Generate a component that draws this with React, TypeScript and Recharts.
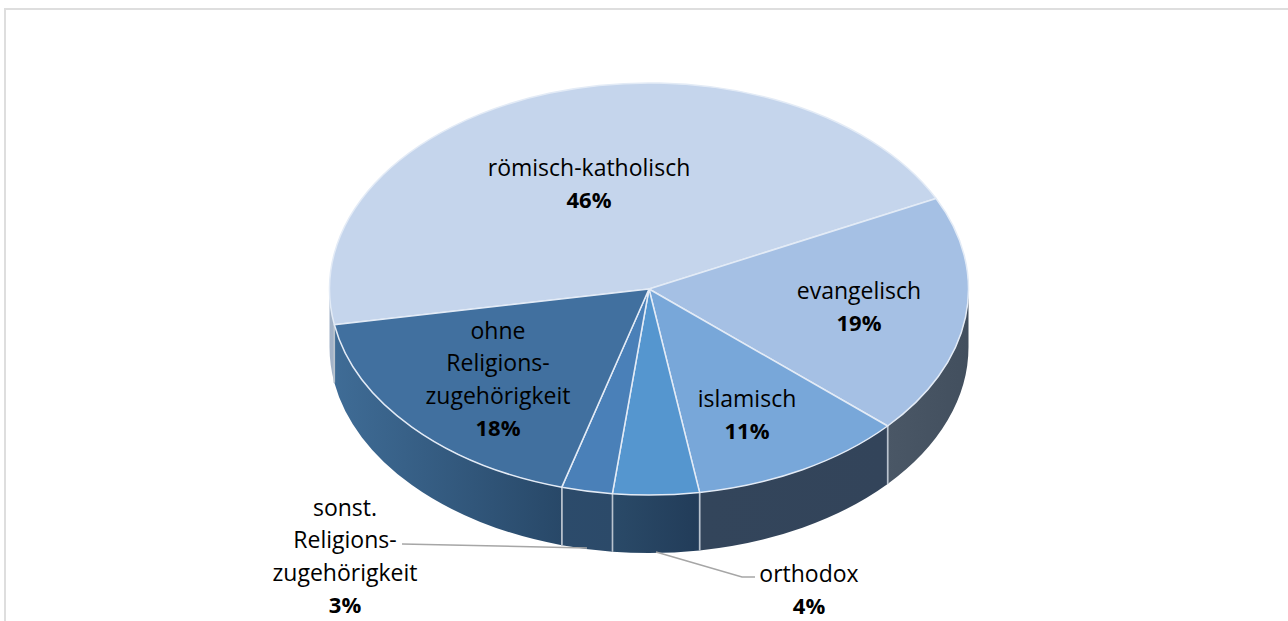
import React from "react";
import { PieChart, Pie } from "recharts";

const categories = ["römisch-katholisch", "evangelisch", "islamisch", "orthodox", "sonst. Religionszugehörigkeit", "ohne Religionszugehörigkeit"];
const shares = [46, 19, 11, 4.4, 2.6, 18];
const percentLabels = ["46%", "19%", "11%", "4%", "3%", "18%"];
const labelLines = [
  ["römisch-katholisch"],
  ["evangelisch"],
  ["islamisch"],
  ["orthodox"],
  ["sonst.", "Religions-", "zugehörigkeit"],
  ["ohne", "Religions-", "zugehörigkeit"],
];

const faceColors = ["#C5D5EC", "#A5C0E4", "#78A7D9", "#5596CF", "#4A80B8", "#41709F"];
const wallColors = [
  ["#A3B3C8", "#A3B3C8"],
  ["#4A5766", "#424F5E"],
  ["#33455B", "#33445A"],
  ["#2A4A68", "#223C59"],
  ["#2C4B6B", "#2C4A69"],
  ["#3F6C96", "#284868"],
];

const CX = 649;
const CY = 289;
const RX = 319.5;
const RY = 206;
const DEPTH = 58;
const FONT = "'Open Sans', sans-serif";
const FONT_SIZE = 23;
const BOLD_SIZE = 22;
const LINE = 32.3;

// Centre of each label block and first baseline, relative to the pie centre
const labelPlacement = [
  { dx: -60, dy: -113 },
  { dx: 210, dy: 10 },
  { dx: 98, dy: 118 },
  { dx: 160, dy: 293 },
  { dx: -304, dy: 227 },
  { dx: -151, dy: 50 },
];

const data = categories.map((name, i) => ({ name, value: shares[i] }));
const pt = (deg: number, dy = 0) => {
  const r = (deg * Math.PI) / 180;
  return { x: CX + RX * Math.cos(r), y: CY - RY * Math.sin(r) + dy };
};

function wallPath(from: number, to: number) {
  const a = pt(from);
  const b = pt(to);
  return `M${a.x},${a.y}A${RX},${RY} 0 0 1 ${b.x},${b.y}L${b.x},${b.y + DEPTH}A${RX},${RY} 0 0 0 ${a.x},${a.y + DEPTH}Z`;
}

function Slice(props: any) {
  const { startAngle, endAngle, index } = props;
  const a = pt(startAngle);
  const b = pt(endAngle);
  const large = startAngle - endAngle > 180 ? 1 : 0;
  const walls: [number, number][] = [];
  for (const [hi, lo] of [[0, -180], [360, 180]]) {
    const s = Math.min(startAngle, hi);
    const e = Math.max(endAngle, lo);
    if (s > e) walls.push([s, e]);
  }
  const gid = `wall-${index}`;
  const xs = walls.flatMap(([s, e]) => [pt(s).x, pt(e).x]);
  return (
    <g>
      {walls.length > 0 && (
        <defs>
          <linearGradient id={gid} gradientUnits="userSpaceOnUse" x1={Math.min(...xs)} x2={Math.max(...xs)} y1="0" y2="0">
            <stop offset="0" stopColor={wallColors[index][0]} />
            <stop offset="1" stopColor={wallColors[index][1]} />
          </linearGradient>
        </defs>
      )}
      {walls.map(([s, e], k) => (
        <path key={k} d={wallPath(s, e)} fill={`url(#${gid})`} stroke="none" />
      ))}
      {[startAngle, endAngle].map((d: number, k: number) => {
        const p = pt(d);
        return Math.sin((d * Math.PI) / 180) < -0.01 ? (
          <line key={k} x1={p.x} y1={p.y} x2={p.x} y2={p.y + DEPTH} stroke="#B9C3CE" strokeWidth={1.5} />
        ) : null;
      })}
      <path
        d={`M${CX},${CY}L${a.x},${a.y}A${RX},${RY} 0 ${large} 1 ${b.x},${b.y}Z`}
        fill={faceColors[index]}
        stroke="#E3EBF6"
        strokeWidth={1.5}
        strokeLinejoin="round"
      />
    </g>
  );
}

function SliceLabel(props: any) {
  const { index } = props;
  const pos = labelPlacement[index];
  const x = CX + pos.dx;
  const y = CY + pos.dy;
  const lines = labelLines[index];
  return (
    <g fontFamily={FONT} fontSize={FONT_SIZE} fill="#000" textAnchor="middle">
      {index === 3 && <polyline points="656,552 742,577 755,577" fill="none" stroke="#A6A6A6" strokeWidth={1.5} />}
      {index === 4 && <line x1={402} y1={544} x2={587} y2={548} stroke="#A6A6A6" strokeWidth={1.5} />}
      {lines.map((t, i) => (
        <text key={i} x={x} y={y + i * LINE} fontFamily={FONT} fontSize={FONT_SIZE} textAnchor="middle" fill="#000">
          {t}
        </text>
      ))}
      <text x={x} y={y + lines.length * LINE} fontFamily={FONT} fontSize={BOLD_SIZE} fontWeight={700} textAnchor="middle" fill="#000">
        {percentLabels[index]}
      </text>
    </g>
  );
}

export default function App() {
  return (
    <div style={{ position: "absolute", left: 0, top: 0, width: 1288, height: 621, overflow: "hidden", background: "#fff" }}>
      <div style={{ position: "absolute", left: 4, top: 8, right: 0, bottom: 0, borderLeft: "2px solid #DEDEDE", borderTop: "2px solid #DEDEDE" }} />
      <div style={{ position: "absolute", left: 0, top: 0 }}>
        <PieChart width={1288} height={621} margin={{ top: 0, right: 0, bottom: 0, left: 0 }}>
          <Pie
            data={data}
            dataKey="value"
            nameKey="name"
            cx={CX}
            cy={CY}
            innerRadius={0}
            outerRadius={RX}
            startAngle={190}
            endAngle={-170}
            isAnimationActive={false}
            shape={Slice}
            label={SliceLabel}
            labelLine={false}
            stroke="none"
          />
        </PieChart>
      </div>
    </div>
  );
}
